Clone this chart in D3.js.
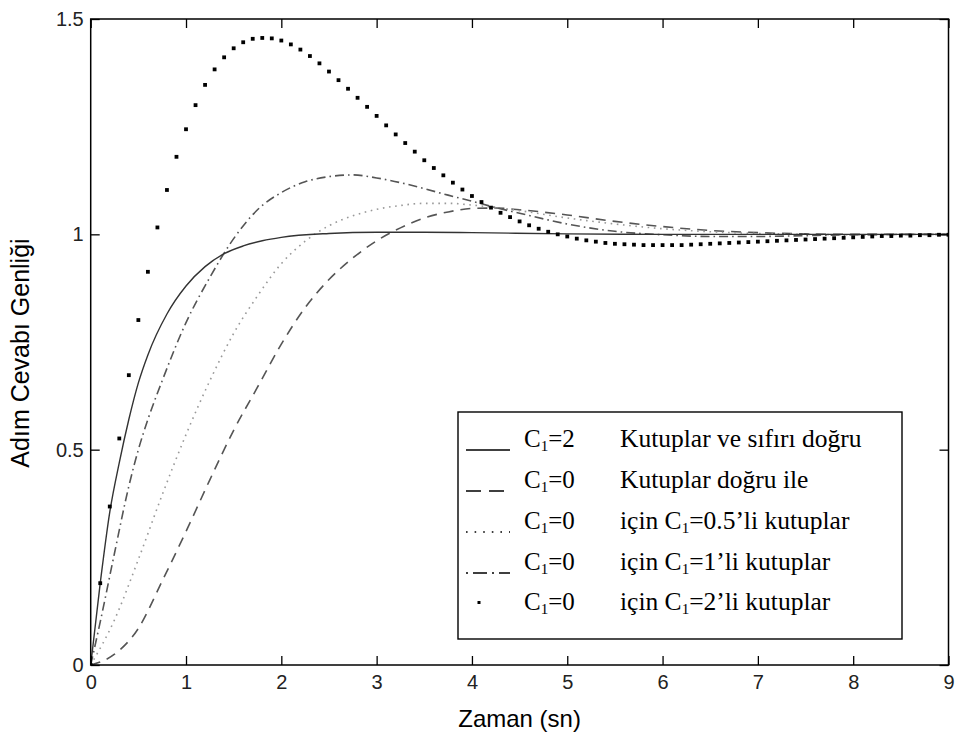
<!DOCTYPE html>
<html><head><meta charset="utf-8">
<script src="https://cdn.jsdelivr.net/npm/d3@7"></script>
<style>body{margin:0;background:#fff}svg{display:block}</style>
</head><body>
<script>
// ---- data ----
const tDots = [0,0.1,0.2,0.3,0.4,0.5,0.6,0.7,0.8,0.9,1.0,1.1,1.2,1.3,1.4,1.5,1.6,1.7,1.8,1.9,2.0,2.1,2.2,2.3,2.4,2.5,2.6,2.7,2.8,2.9,3.0,3.1,3.2,3.3,3.4,3.5,3.6,3.7,3.8,3.9,4.0,4.1,4.2,4.3,4.4,4.5,4.6,4.7,4.8,4.9,5.0,5.1,5.2,5.3,5.4,5.5,5.6,5.7,5.8,5.9,6.0,6.1,6.2,6.3,6.4,6.5,6.6,6.7,6.8,6.9,7.0,7.1,7.2,7.3,7.4,7.5,7.6,7.7,7.8,7.9,8.0,8.1,8.2,8.3,8.4,8.5,8.6,8.7,8.8,8.9,9.0];
const polesC2 = [0,0.19,0.368,0.526,0.673,0.801,0.913,1.016,1.103,1.180,1.244,1.300,1.347,1.383,1.411,1.432,1.446,1.454,1.456,1.455,1.450,1.441,1.429,1.414,1.397,1.378,1.358,1.338,1.317,1.296,1.275,1.253,1.232,1.212,1.192,1.172,1.154,1.137,1.120,1.104,1.089,1.075,1.062,1.050,1.040,1.030,1.021,1.013,1.006,1.000,0.995,0.990,0.986,0.983,0.980,0.978,0.977,0.976,0.975,0.975,0.975,0.975,0.975,0.976,0.977,0.978,0.979,0.980,0.981,0.982,0.983,0.984,0.985,0.986,0.987,0.988,0.989,0.990,0.991,0.992,0.993,0.994,0.995,0.996,0.996,0.997,0.997,0.998,0.998,0.999,0.999];

const tSolid = [0,0.1,0.2,0.3,0.4,0.5,0.6,0.8,1.0,1.2,1.4,1.6,1.8,2.0,2.5,3.0,3.5,4.0,5.0,6.0,7.0,8.0,9.0];
const zeroLine = [0,0.19,0.355,0.47,0.57,0.655,0.72,0.815,0.88,0.925,0.955,0.973,0.985,0.993,1.002,1.005,1.005,1.004,1.001,1.0,1.0,1.0,1.0];

const tCurve = [0,0.25,0.5,0.75,1.0,1.25,1.5,1.75,2.0,2.25,2.5,2.75,3.0,3.25,3.5,3.75,4.0,4.25,4.5,5.0,5.5,6.0,6.5,7.0,7.5,8.0,8.5,9.0];
const polesLine = [0,0.025,0.085,0.195,0.31,0.43,0.545,0.645,0.745,0.83,0.895,0.945,0.985,1.015,1.038,1.052,1.06,1.061,1.057,1.045,1.03,1.018,1.009,1.004,1.001,1.0,1.0,1.0];
const polesC05 = [0,0.105,0.245,0.395,0.535,0.66,0.77,0.857,0.932,0.984,1.02,1.043,1.058,1.067,1.072,1.072,1.068,1.062,1.055,1.038,1.024,1.013,1.006,1.002,1.0,0.999,1.0,1.0];

const tDashDot = [0,0.1,0.25,0.4,0.5,0.6,0.75,1.0,1.25,1.5,1.75,2.0,2.25,2.5,2.75,3.0,3.25,3.5,3.75,4.0,4.25,4.5,5.0,5.5,6.0,6.5,7.0,7.5,8.0,9.0];
const polesC1 = [0,0.1,0.26,0.415,0.5,0.57,0.66,0.795,0.9,0.99,1.057,1.097,1.122,1.134,1.138,1.131,1.12,1.106,1.091,1.077,1.062,1.049,1.024,1.007,0.999,0.995,0.995,0.997,0.999,1.0];

const xTicks = [0,1,2,3,4,5,6,7,8,9];
const yTicks = [0,0.5,1,1.5];
const legendCond = ["2","0","0","0","0"];
const legendDesc = [
  [["Kutuplar ve sıfırı doğru"]],
  [["Kutuplar doğru ile"]],
  [["için C"],["1","sub"],["=0.5’li kutuplar"]],
  [["için C"],["1","sub"],["=1’li kutuplar"]],
  [["için C"],["1","sub"],["=2’li kutuplar"]]
];
const xTitle = "Zaman (sn)";
const yTitle = "Adım Cevabı Genliği";

// ---- drawing ----
const W = 956, H = 738;
const svg = d3.select("body").append("svg").attr("width", W).attr("height", H);
const x = d3.scaleLinear().domain([0, 9]).range([90.7, 948.5]);
const y = d3.scaleLinear().domain([0, 1.5]).range([665, 19]);
const sansFont = "'Liberation Sans', Arial, sans-serif";
const serifFont = "'Liberation Serif', 'Times New Roman', serif";

const plot = svg.append("g");
plot.append("defs").append("clipPath").attr("id", "clip")
  .append("rect").attr("x", x(0)).attr("y", y(1.5)).attr("width", x(9) - x(0)).attr("height", y(0) - y(1.5));

const lineGen = (ts) => d3.line().x((d, i) => x(ts[i])).y(d => y(d)).curve(d3.curveMonotoneX);
const curves = plot.append("g").attr("clip-path", "url(#clip)");

curves.append("path").datum(polesLine).attr("d", lineGen(tCurve))
  .attr("fill", "none").attr("stroke", "#555").attr("stroke-width", 1.6).attr("stroke-dasharray", "10,7");
curves.append("path").datum(polesC05).attr("d", lineGen(tCurve))
  .attr("fill", "none").attr("stroke", "#999").attr("stroke-width", 1.6).attr("stroke-dasharray", "1.6,4.6");
curves.append("path").datum(polesC1).attr("d", lineGen(tDashDot))
  .attr("fill", "none").attr("stroke", "#555").attr("stroke-width", 1.6).attr("stroke-dasharray", "9,4,1.6,4");
curves.append("path").datum(zeroLine).attr("d", lineGen(tSolid))
  .attr("fill", "none").attr("stroke", "#333").attr("stroke-width", 1.4);
curves.selectAll("rect.dot").data(polesC2).enter().append("rect").attr("class", "dot")
  .attr("x", (d, i) => x(tDots[i]) - 1.9).attr("y", d => y(d) - 1.9)
  .attr("width", 3.8).attr("height", 3.8).attr("fill", "#000");

// axes (box with inward ticks)
const axisStyle = g => {
  g.select(".domain").remove();
  g.selectAll(".tick line").attr("stroke", "#000").attr("stroke-width", 1.3);
  g.selectAll("text").attr("font-family", sansFont).attr("font-size", 20).attr("fill", "#222");
};
svg.append("g").attr("transform", `translate(0,${y(0)})`)
  .call(d3.axisBottom(x).tickValues(xTicks).tickFormat(d => String(d)).tickSize(-9).tickPadding(10))
  .call(axisStyle);
svg.append("g").attr("transform", `translate(0,${y(1.5)})`)
  .call(d3.axisTop(x).tickValues(xTicks).tickFormat("").tickSize(-9))
  .call(axisStyle);
svg.append("g").attr("transform", `translate(${x(0)},0)`)
  .call(d3.axisLeft(y).tickValues(yTicks).tickFormat(d => String(d)).tickSize(-9).tickPadding(7))
  .call(axisStyle);
svg.append("g").attr("transform", `translate(${x(9)},0)`)
  .call(d3.axisRight(y).tickValues(yTicks).tickFormat("").tickSize(-9))
  .call(axisStyle);
svg.append("rect").attr("x", x(0)).attr("y", y(1.5)).attr("width", x(9) - x(0)).attr("height", y(0) - y(1.5))
  .attr("fill", "none").attr("stroke", "#000").attr("stroke-width", 1.5);

// titles
svg.append("text").attr("x", (x(0) + x(9)) / 2).attr("y", 727).attr("text-anchor", "middle")
  .attr("font-family", sansFont).attr("font-size", 24).attr("fill", "#000").text(xTitle);
svg.append("text").attr("transform", `translate(29,${(y(0) + y(1.5)) / 2 + 11}) rotate(-90)`).attr("text-anchor", "middle")
  .attr("font-family", sansFont).attr("font-size", 25).attr("fill", "#000").text(yTitle);

// legend
const leg = svg.append("g");
leg.append("rect").attr("x", 458).attr("y", 412).attr("width", 444).attr("height", 227)
  .attr("fill", "#fff").attr("stroke", "#000").attr("stroke-width", 1.4);
const rowY = [447, 488, 529, 570, 610];
const sampleStyles = [
  {stroke: "#000", dash: null},
  {stroke: "#000", dash: "15,8"},
  {stroke: "#000", dash: "1.6,7"},
  {stroke: "#000", dash: "2,5,14,5"},
  null
];
sampleStyles.forEach((s, i) => {
  if (s) {
    leg.append("line").attr("x1", 466).attr("x2", 510).attr("y1", rowY[i] + 3).attr("y2", rowY[i] + 3)
      .attr("stroke", s.stroke).attr("stroke-width", 1.4).attr("stroke-dasharray", s.dash);
  } else {
    leg.append("rect").attr("x", 477.5).attr("y", rowY[i] - 9).attr("width", 3).attr("height", 3).attr("fill", "#000");
  }
});
legendCond.forEach((c, i) => {
  const t = leg.append("text").attr("x", 524).attr("y", rowY[i])
    .attr("font-family", serifFont).attr("font-size", 25).attr("fill", "#000");
  t.append("tspan").text("C");
  t.append("tspan").attr("font-size", 15).attr("dy", 4).text("1");
  t.append("tspan").attr("dy", -4).text("=" + c);
});
legendDesc.forEach((parts, i) => {
  const t = leg.append("text").attr("x", 620).attr("y", rowY[i])
    .attr("font-family", serifFont).attr("font-size", 25.5).attr("fill", "#000");
  let shifted = false;
  parts.forEach(p => {
    const sp = t.append("tspan").text(p[0]);
    if (p[1] === "sub") { sp.attr("font-size", 15).attr("dy", 4); shifted = true; }
    else if (shifted) { sp.attr("dy", -4); shifted = false; }
  });
});
</script>
</body></html>
